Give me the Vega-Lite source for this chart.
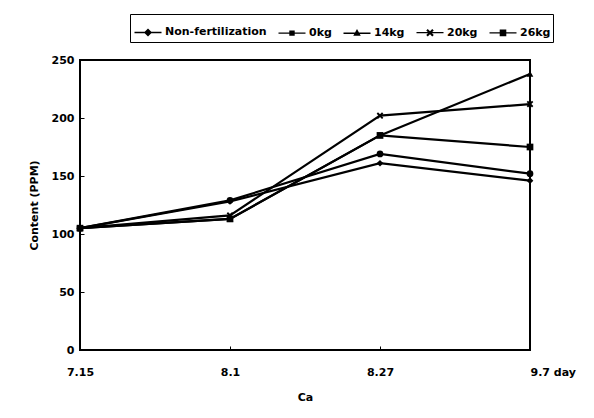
{
  "$schema": "https://vega.github.io/schema/vega-lite/v6.json",
  "autosize": {"type": "none"},
  "width": 450,
  "height": 290,
  "padding": {"left": 80, "top": 60, "right": 64, "bottom": 68},
  "background": "white",
  "config": {
    "font": "DejaVu Sans",
    "view": {"stroke": "black", "strokeWidth": 2},
    "axis": {"grid": false, "domain": false, "labelFont": "DejaVu Sans", "labelFontWeight": "bold", "labelFontSize": 11, "labelColor": "black", "titleFont": "DejaVu Sans", "titleFontWeight": "bold", "titleFontSize": 11, "titleColor": "black", "tickColor": "black"}
  },
  "data": {
    "values": [
      {"date": "7.15", "series": "Non-fertilization", "ppm": 105},
      {"date": "8.1", "series": "Non-fertilization", "ppm": 128},
      {"date": "8.27", "series": "Non-fertilization", "ppm": 161},
      {"date": "9.7 day", "series": "Non-fertilization", "ppm": 146},
      {"date": "7.15", "series": "0kg", "ppm": 105},
      {"date": "8.1", "series": "0kg", "ppm": 129},
      {"date": "8.27", "series": "0kg", "ppm": 169},
      {"date": "9.7 day", "series": "0kg", "ppm": 152},
      {"date": "7.15", "series": "14kg", "ppm": 105},
      {"date": "8.1", "series": "14kg", "ppm": 113},
      {"date": "8.27", "series": "14kg", "ppm": 185},
      {"date": "9.7 day", "series": "14kg", "ppm": 238},
      {"date": "7.15", "series": "20kg", "ppm": 105},
      {"date": "8.1", "series": "20kg", "ppm": 116},
      {"date": "8.27", "series": "20kg", "ppm": 202},
      {"date": "9.7 day", "series": "20kg", "ppm": 212},
      {"date": "7.15", "series": "26kg", "ppm": 105},
      {"date": "8.1", "series": "26kg", "ppm": 113},
      {"date": "8.27", "series": "26kg", "ppm": 185},
      {"date": "9.7 day", "series": "26kg", "ppm": 175}
    ]
  },
  "encoding": {
    "x": {"field": "date", "type": "nominal", "scale": {"type": "point", "padding": 0, "domain": ["7.15", "8.1", "8.27", "9.7 day"]},
      "axis": {"title": "Ca", "labelAngle": 0, "tickSize": -4, "labelPadding": 20, "titlePadding": 14,
        "labelAlign": {"condition": {"test": "datum.label == '9.7 day'", "value": "left"}, "value": "center"}}},
    "y": {"field": "ppm", "type": "quantitative", "scale": {"domain": [0, 250], "nice": false},
      "axis": {"title": "Content (PPM)", "values": [0, 50, 100, 150, 200, 250], "tickSize": -4, "labelPadding": 10, "titlePadding": 12}}
  },
  "layer": [
    {
      "mark": {"type": "line", "color": "black", "strokeWidth": 2.2},
      "encoding": {"detail": {"field": "series", "type": "nominal"}}
    },
    {
      "mark": {"type": "point", "filled": true, "color": "black", "size": 45, "opacity": 1},
      "encoding": {
        "shape": {"field": "series", "type": "nominal",
          "scale": {"domain": ["Non-fertilization", "0kg", "14kg", "20kg", "26kg"], "range": ["diamond", "circle", "triangle-up", "M-1,-0.6L-0.6,-1L0,-0.4L0.6,-1L1,-0.6L0.4,0L1,0.6L0.6,1L0,0.4L-0.6,1L-1,0.6L-0.4,0Z", "square"]},
          "legend": null}
      }
    },
    {
      "mark": {"type": "point", "filled": true, "color": "black", "size": 0, "opacity": 0},
      "encoding": {
        "shape": {"field": "series", "type": "nominal",
          "scale": {"domain": ["Non-fertilization", "0kg", "14kg", "20kg", "26kg"],
            "range": [
              "M-0.9,-0.045L0.9,-0.045L0.9,0.045L-0.9,0.045Z M0,-0.27L0.27,0L0,0.27L-0.27,0Z",
              "M-0.9,-0.045L0.9,-0.045L0.9,0.045L-0.9,0.045Z M-0.18,-0.18L0.18,-0.18L0.18,0.18L-0.18,0.18Z",
              "M-0.9,-0.045L0.9,-0.045L0.9,0.045L-0.9,0.045Z M0,-0.28L0.25,0.17L-0.25,0.17Z",
              "M-0.9,-0.045L0.9,-0.045L0.9,0.045L-0.9,0.045Z M-0.25,-0.15L-0.15,-0.25L0,-0.1L0.15,-0.25L0.25,-0.15L0.1,0L0.25,0.15L0.15,0.25L0,0.1L-0.15,0.25L-0.25,0.15L-0.1,0Z",
              "M-0.9,-0.045L0.9,-0.045L0.9,0.045L-0.9,0.045Z M-0.22,-0.22L0.22,-0.22L0.22,0.22L-0.22,0.22Z"
            ]},
          "legend": {
            "title": null, "orient": "none", "direction": "horizontal", "columns": 5,
            "legendX": 50, "legendY": -46,
            "symbolSize": 900, "symbolOpacity": 1, "symbolFillColor": "black",
            "labelFont": "DejaVu Sans", "labelFontWeight": "bold", "labelFontSize": 11, "labelColor": "black",
            "labelOffset": 1, "columnPadding": 8,
            "strokeColor": "black", "padding": 2, "fillColor": "white"
          }
        }
      }
    }
  ],
  "resolve": {"scale": {"shape": "independent"}, "legend": {"shape": "independent"}}
}
